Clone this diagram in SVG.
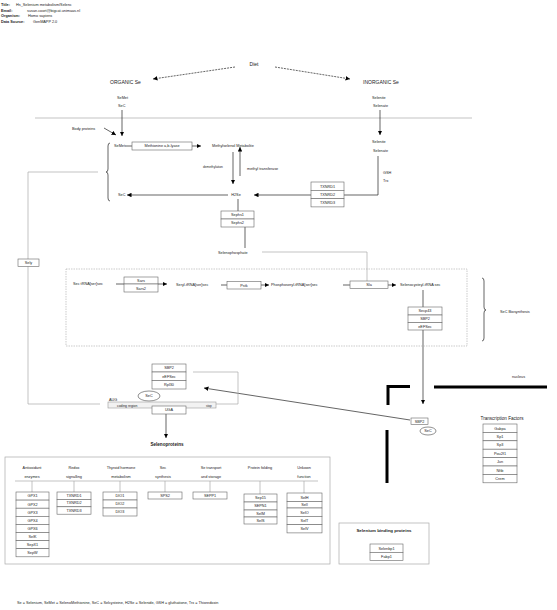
<svg xmlns="http://www.w3.org/2000/svg" width="557" height="610" viewBox="0 0 557 610">
<defs>
<marker id="ah" viewBox="0 0 10 10" refX="10" refY="5" markerWidth="4.5" markerHeight="4.5" markerUnits="userSpaceOnUse" orient="auto"><path d="M0,0 L10,5 L0,10 z" fill="#000"/></marker>
</defs>
<style>
text{font-family:"Liberation Sans",Arial,sans-serif;font-size:3.8px;fill:#222}
.h{font-weight:bold}
.m{text-anchor:middle}
.big{font-size:5px}
.b{font-size:4.6px}
.box{fill:#fff;stroke:#666;stroke-width:0.6}
.c{fill:none;stroke:#222;stroke-width:0.7}
.g{fill:none;stroke:#aaa;stroke-width:0.7}
.ar{marker-end:url(#ah)}
.nuc{fill:none;stroke:#000;stroke-width:3}
</style>
<rect width="557" height="610" fill="#fff"/>

<g id="header">
<text class="h" x="1" y="6">Title:</text><text x="16" y="6">Hs_Selenium metabolism/Selenc</text>
<text class="h" x="1" y="11.5">Email:</text><text x="27" y="11.5">susan.coort@bigcat.unimaas.nl</text>
<text class="h" x="1" y="17">Organism:</text><text x="28" y="17">Homo sapiens</text>
<text class="h" x="1" y="22.5">Data Source:</text><text x="33" y="22.5">GenMAPP 2.0</text>
</g>

<g id="connectors">
<path class="c ar" d="M235,67 L153,79" stroke-dasharray="2,1"/>
<path class="c ar" d="M275,67 L350,79" stroke-dasharray="2,1"/>
<path class="g" d="M35,118 H472"/>
<path class="c ar" d="M122,110 V136"/>
<path class="c ar" d="M104,128 L116,135"/>
<path class="c" d="M125,146 H132"/>
<path class="c ar" d="M192,146 H201"/>
<path class="c ar" d="M233,152 V184"/>
<path class="c ar" d="M240,176 V147"/>
<path class="c ar" d="M228,195 H127"/>
<path class="c ar" d="M311,195 H254"/>
<path class="c" d="M378,156 V195 H344"/>
<path class="c ar" d="M380,110 V135"/>
<path class="c" d="M238,199 V211"/>
<path class="c" d="M245,227 V248"/>
<path class="g" d="M262,252 H367 V281"/>
<path class="c ar" d="M116,284 H167"/>
<path class="c" d="M221,285 H227"/>
<path class="c ar" d="M261,285 H269"/>
<path class="c" d="M343,285 H350"/>
<path class="c ar" d="M388,285 H396"/>
<path class="c" d="M423,290 V307"/>
<path class="c ar" d="M423,330 V404"/>
<path class="c ar" d="M410,420 L204,388"/>
<path class="g" d="M98,172 H28 V404 H100"/>
<path class="g" d="M193,372 H238 V404 H216"/>
<path class="c ar" d="M166,414 V438"/>
<path class="c" d="M110,143 q-2,0 -2,3 v23 q0,3 -2,3 q2,0 2,3 v23 q0,3 2,3" stroke-width="0.5"/>
<path class="c" d="M482,278 q2,0 2,3 v26 q0,3 2,3 q-2,0 -2,3 v25 q0,3 -2,3" stroke-width="0.5"/>
</g>

<g id="diet"><text class="m big" x="254" y="66">Diet</text></g>
<g id="organic">
<text class="big" x="110" y="84">ORGANIC Se</text>
<text x="117" y="99">SeMet</text>
<text x="118" y="107">SeC</text>
</g>
<g id="inorganic">
<text class="big" x="363" y="84">INORGANIC Se</text>
<text x="372" y="99">Selenite</text>
<text x="373" y="107">Selenate</text>
</g>
<g id="bodyproteins"><text x="72" y="130">Body proteins</text></g>
<g id="semet"><text x="114" y="147">SeMet</text></g>
<g id="lyase"><rect class="box" x="132" y="142" width="60" height="8"/><text class="m" x="162" y="147.3">Methionine a,b-lyase</text></g>
<g id="methylselenol"><text x="212" y="147.3">Methylselenol Metabolite</text></g>
<g id="demethylation"><text x="203" y="168" style="font-size:3.2px">demethylation</text></g>
<g id="methyltransferase"><text x="247" y="170">methyl transferase</text></g>
<g id="h2se"><text class="m" x="236" y="196.3">H2Se</text></g>
<g id="sec1"><text x="118" y="196.3">SeC</text></g>
<g id="selenite2">
<text x="372" y="143">Selenite</text>
<text x="373" y="151.5">Selenate</text>
<text x="383" y="174">GSH</text>
<text x="383" y="182">Trx</text>
</g>
<g id="txnrd">
<rect class="box" x="311" y="182" width="33" height="8.3"/><text class="m" x="327.5" y="187.5">TXNRD1</text>
<rect class="box" x="311" y="190.3" width="33" height="8.3"/><text class="m" x="327.5" y="195.8">TXNRD2</text>
<rect class="box" x="311" y="198.6" width="33" height="8.3"/><text class="m" x="327.5" y="204.1">TXNRD3</text>
</g>
<g id="sephs">
<rect class="box" x="221" y="211" width="33" height="8"/><text class="m" x="237.5" y="216.3">Sephs1</text>
<rect class="box" x="221" y="219" width="33" height="8"/><text class="m" x="237.5" y="224.3">Sephs2</text>
</g>
<g id="selenophosphate"><text x="218" y="253.5">Selenophosphate</text></g>
<g id="sely"><rect class="box" x="18" y="259" width="21" height="7.5"/><text class="m" x="28.5" y="264">Sely</text></g>

<g id="biosynthesis">
<rect x="66" y="269" width="401" height="77" fill="none" stroke="#aaa" stroke-width="0.6" stroke-dasharray="1.5,1"/>
<text x="73" y="285">Sec tRNA[ser]sec</text>
<rect class="box" x="124" y="277" width="34" height="7"/><text class="m" x="141" y="282">Sars</text>
<rect class="box" x="124" y="284" width="34" height="8"/><text class="m" x="141" y="289.5">Sars2</text>
<text x="176" y="285.5">Seryl-tRNA[ser]sec</text>
<rect class="box" x="227" y="281.5" width="34" height="7.5"/><text class="m" x="244" y="286.5">Pstk</text>
<text x="271" y="285.5">Phosphoseryl-tRNA[ser]sec</text>
<rect class="box" x="350" y="281" width="38" height="7.5"/><text class="m" x="369" y="286">Sla</text>
<text x="400" y="285.5">Selenocysteyl-tRNA sec</text>
<rect class="box" x="408" y="307" width="34" height="8"/><text class="m" x="425" y="312.3">Secp43</text>
<rect class="box" x="408" y="315" width="34" height="7.5"/><text class="m" x="425" y="320">SBP2</text>
<rect class="box" x="408" y="322.5" width="34" height="7.5"/><text class="m" x="425" y="327.5">eEFSec</text>
<text x="500" y="313">SeC Biosynthesis</text>
</g>

<g id="translation">
<rect class="box" x="152" y="364" width="34" height="8"/><text class="m" x="169" y="369.3">SBP2</text>
<rect class="box" x="152" y="372" width="34" height="8.5"/><text class="m" x="169" y="377.6">eEFSec</text>
<rect class="box" x="152" y="380.5" width="34" height="8.5"/><text class="m" x="169" y="386.1">Rpl30</text>
<ellipse cx="149" cy="396" rx="11" ry="5" fill="#fff" stroke="#444" stroke-width="0.6"/><text class="m" x="149" y="397.3">SeC</text>
<text x="109" y="400.5">AUG</text>
<rect x="108" y="402" width="108" height="6" fill="#f2f2f2" stroke="#999" stroke-width="0.6"/>
<text x="117" y="406.5" style="font-size:3.4px">coding region</text>
<text x="206" y="406.5" style="font-size:3px">stop</text>
<rect class="box" x="152" y="406" width="34" height="8"/><text class="m" x="169" y="411.3">UGA</text>
<text class="h m b" x="167" y="446">Selenoproteins</text>
</g>

<g id="nucleus">
<path class="nuc" d="M388,405 V386.5 H410"/>
<path class="nuc" d="M434,387 H547"/>
<path class="nuc" d="M387,430 V483"/>
<text x="512" y="377.5">nucleus</text>
<rect class="box" x="411" y="418" width="17" height="6.5"/><text class="m" x="419.5" y="422.5">SBP2</text>
<ellipse cx="428" cy="431" rx="8" ry="4" fill="#fff" stroke="#444" stroke-width="0.6"/><text class="m" x="428" y="432.3">SeC</text>
</g>

<g id="transcriptionfactors">
<text class="m" x="502" y="419.5" style="font-size:4.6px">Transcription Factors</text>
<rect class="box" x="483" y="424" width="34" height="8.4"/><text class="m" x="500" y="429.5">Gabpa</text>
<rect class="box" x="483" y="432.4" width="34" height="8.4"/><text class="m" x="500" y="437.9">Sp1</text>
<rect class="box" x="483" y="440.8" width="34" height="8.4"/><text class="m" x="500" y="446.3">Sp3</text>
<rect class="box" x="483" y="449.2" width="34" height="8.4"/><text class="m" x="500" y="454.7">Pou2f1</text>
<rect class="box" x="483" y="457.6" width="34" height="8.4"/><text class="m" x="500" y="463.1">Jun</text>
<rect class="box" x="483" y="466" width="34" height="8.4"/><text class="m" x="500" y="471.5">Nfib</text>
<rect class="box" x="483" y="474.4" width="34" height="8.4"/><text class="m" x="500" y="479.9">Crem</text>
</g>

<g id="selenoproteins">
<rect x="5" y="457" width="325" height="107" fill="none" stroke="#aaa" stroke-width="0.7"/>
<path class="g" d="M15,481 H318 M32,481 V492 M74,481 V492 M120,481 V492 M165,481 V492 M210,481 V492 M260,481 V494 M304,481 V493"/>
<text class="m" x="32" y="469">Antioxidant</text><text class="m" x="32" y="478">enzymes</text>
<text class="m" x="74" y="469">Redox</text><text class="m" x="74" y="478">signalling</text>
<text class="m" x="121" y="469">Thyroid hormone</text><text class="m" x="121" y="478">metabolism</text>
<text class="m" x="163" y="469">Sec</text><text class="m" x="163" y="478">synthesis</text>
<text class="m" x="211" y="469">Se transport</text><text class="m" x="211" y="478">and storage</text>
<text class="m" x="260" y="469">Protein folding</text>
<text class="m" x="304" y="469">Unkown</text><text class="m" x="304" y="478">function</text>
</g>
<g id="antioxidant">
<rect class="box" x="16" y="492" width="33" height="8.1"/><text class="m" x="32.5" y="497.4">GPX1</text>
<rect class="box" x="16" y="500.1" width="33" height="8.1"/><text class="m" x="32.5" y="505.5">GPX2</text>
<rect class="box" x="16" y="508.2" width="33" height="8.1"/><text class="m" x="32.5" y="513.6">GPX3</text>
<rect class="box" x="16" y="516.3" width="33" height="8.1"/><text class="m" x="32.5" y="521.7">GPX4</text>
<rect class="box" x="16" y="524.4" width="33" height="8.1"/><text class="m" x="32.5" y="529.8">GPX6</text>
<rect class="box" x="16" y="532.5" width="33" height="8.1"/><text class="m" x="32.5" y="537.9">SelK</text>
<rect class="box" x="16" y="540.6" width="33" height="8.1"/><text class="m" x="32.5" y="546">SepX1</text>
<rect class="box" x="16" y="548.7" width="33" height="8.1"/><text class="m" x="32.5" y="554.1">SepW</text>
</g>
<g id="redox">
<rect class="box" x="57" y="492" width="34" height="7.4"/><text class="m" x="74" y="497">TXNRD1</text>
<rect class="box" x="57" y="499.4" width="34" height="7.4"/><text class="m" x="74" y="504.4">TXNRD2</text>
<rect class="box" x="57" y="506.8" width="34" height="7.4"/><text class="m" x="74" y="511.8">TXNRD3</text>
</g>
<g id="thyroid">
<rect class="box" x="103" y="492" width="34" height="8"/><text class="m" x="120" y="497.3">DIO1</text>
<rect class="box" x="103" y="500" width="34" height="8"/><text class="m" x="120" y="505.3">DIO2</text>
<rect class="box" x="103" y="508" width="34" height="8"/><text class="m" x="120" y="513.3">DIO3</text>
</g>
<g id="secsynthesis"><rect class="box" x="148" y="492" width="34" height="7"/><text class="m" x="165" y="496.8">SPS2</text></g>
<g id="transport"><rect class="box" x="193" y="492" width="34" height="7"/><text class="m" x="210" y="496.8">SEPP1</text></g>
<g id="folding">
<rect class="box" x="244" y="494" width="33" height="8"/><text class="m" x="260.5" y="499.3">Sep15</text>
<rect class="box" x="244" y="502" width="33" height="8"/><text class="m" x="260.5" y="507.3">SEPN1</text>
<rect class="box" x="244" y="510" width="33" height="7"/><text class="m" x="260.5" y="514.8">SelM</text>
<rect class="box" x="244" y="517" width="33" height="7"/><text class="m" x="260.5" y="521.8">SelS</text>
</g>
<g id="unknown">
<rect class="box" x="287" y="493" width="35" height="8.5"/><text class="m" x="304.5" y="498.5">SelH</text>
<rect class="box" x="287" y="501.5" width="35" height="6.5"/><text class="m" x="304.5" y="505.8">SelI</text>
<rect class="box" x="287" y="508" width="35" height="8.3"/><text class="m" x="304.5" y="513.5">SelO</text>
<rect class="box" x="287" y="516.3" width="35" height="8.3"/><text class="m" x="304.5" y="521.8">SelT</text>
<rect class="box" x="287" y="524.6" width="35" height="8.3"/><text class="m" x="304.5" y="530.1">SelV</text>
</g>
<g id="bindingproteins">
<rect x="339" y="523" width="90" height="41" fill="none" stroke="#aaa" stroke-width="0.7"/>
<text class="h m" x="384" y="532" style="font-size:4.4px">Selenium binding proteins</text>
<rect class="box" x="370" y="544" width="33" height="8.3"/><text class="m" x="386.5" y="549.5">Selenbp1</text>
<rect class="box" x="370" y="552.3" width="33" height="8.3"/><text class="m" x="386.5" y="557.8">Fabp1</text>
</g>
<g id="footnote"><text x="17" y="603.5">Se = Selenium, SeMet = SelenoMethionine, SeC = Selcysteine, H2Se = Selenide, GSH = gluthatione, Trx = Thioredoxin</text></g>
</svg>
